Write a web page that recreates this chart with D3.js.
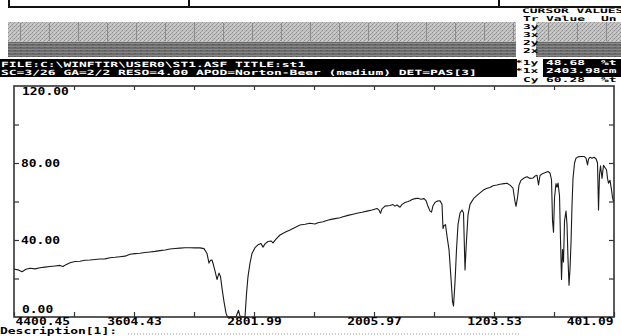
<!DOCTYPE html>
<html><head><meta charset="utf-8">
<script src="https://cdn.jsdelivr.net/npm/d3@7"></script>
<style>
html,body{margin:0;padding:0;background:#fff;overflow:hidden;}
svg{display:block;}
text{font-family:"DejaVu Sans Mono","Liberation Mono",monospace;font-weight:bold;}
</style></head><body>
<svg id="chart" width="621" height="336"></svg>
<script>
// Spectrum: wavenumber (cm-1) and transmittance (%T)
const wavenumbers = [
  4400.5,4373.8,4347.1,4320.5,4293.8,4260.5,4227.2,4193.8,4160.5,4127.2,4093.8,4073.9,4053.9,4027.2,
  3993.9,3960.5,3927.2,3893.9,3860.6,3827.2,3793.9,3760.6,3727.2,3693.9,3660.6,3627.2,3593.9,3560.6,
  3527.3,3493.9,3460.6,3427.3,3393.9,3360.6,3327.3,3293.9,3260.6,3227.3,3193.9,3160.6,3134.0,3114.0,
  3100.7,3090.6,3080.7,3070.7,3060.7,3047.3,3034.0,3024.0,3014.0,3000.7,2987.4,2977.4,2920.7,2904.0,
  2894.1,2874.1,2860.7,2850.7,2840.7,2827.4,2814.1,2794.1,2774.1,2754.1,2740.7,2727.4,2707.4,2687.4,
  2674.1,2654.1,2627.4,2594.1,2560.7,2527.4,2494.1,2460.7,2427.4,2394.1,2374.1,2340.8,2294.1,2260.8,
  2227.5,2207.5,2174.1,2140.8,2107.5,2080.8,2047.5,2014.1,1980.8,1967.5,1957.5,1947.5,1927.5,1894.1,
  1874.1,1860.8,1847.5,1827.5,1814.1,1794.1,1774.1,1760.8,1747.5,1727.5,1707.5,1687.5,1667.5,1654.2,
  1640.8,1627.5,1617.5,1607.5,1594.2,1580.8,1560.8,1547.5,1540.9,1534.2,1524.2,1514.2,1500.9,1487.5,
  1477.5,1470.9,1460.9,1450.9,1440.9,1427.5,1414.2,1404.2,1394.2,1384.2,1374.2,1360.9,1347.5,1334.2,
  1314.2,1294.2,1274.2,1247.6,1227.6,1207.6,1180.9,1160.9,1134.3,1114.3,1094.3,1074.3,1060.9,1054.3,
  1044.3,1034.3,1020.9,1000.9,980.9,960.9,940.9,927.6,914.3,904.3,894.3,874.3,854.3,840.9,
  827.6,817.6,810.9,804.3,797.6,787.6,780.9,774.3,764.3,757.6,750.9,744.3,737.6,730.9,
  721.0,714.3,707.6,701.0,694.3,687.6,681.0,674.3,664.3,654.3,641.0,621.0,601.0,587.6,
  577.6,571.0,561.0,547.6,534.3,521.0,511.0,504.3,497.6,491.0,481.0,471.0,461.0,451.0,
  444.3,437.6,427.6,417.6,411.0,404.3
];
const transmittance = [
  24.9,24.5,23.5,24.8,25.3,25.0,25.6,25.9,26.2,26.5,26.8,26.2,27.2,28.2,
  28.8,29.0,29.5,29.6,29.9,30.1,30.2,30.8,31.0,31.3,31.6,32.6,32.9,33.1,
  33.5,33.8,34.1,34.5,34.8,35.3,35.6,35.8,36.0,36.0,35.9,35.9,35.5,33.0,
  28.0,29.5,29.6,27.0,24.0,19.5,22.8,21.0,15.0,8.0,2.0,0.0,0.0,3.5,
  0.5,0.0,0.0,12.0,21.0,28.0,33.0,36.0,37.5,38.2,36.3,38.0,39.2,39.5,
  38.5,40.5,42.6,44.0,45.2,46.5,47.8,48.2,48.7,48.3,49.0,49.5,50.6,51.1,
  51.6,52.1,52.8,53.4,54.0,54.4,55.0,55.6,56.4,55.5,53.9,56.2,57.6,57.9,
  58.4,57.6,58.2,57.0,58.5,59.5,60.0,60.4,61.0,61.5,61.7,61.2,61.5,60.5,
  57.5,55.0,54.5,57.8,59.5,60.2,60.4,58.5,46.0,47.5,48.0,42.0,35.0,20.0,
  8.0,5.7,18.0,35.0,48.0,54.0,55.6,54.0,24.4,40.0,53.0,58.5,60.2,61.8,
  63.2,64.5,65.8,66.9,67.3,68.2,68.6,69.0,69.3,69.5,68.5,67.0,60.0,57.5,
  62.0,68.5,71.0,72.2,72.9,72.0,72.2,73.2,73.6,68.6,73.5,74.6,75.2,75.6,
  74.8,71.2,50.0,44.0,62.0,69.3,67.5,69.6,63.0,40.0,19.5,35.0,28.6,50.0,
  55.0,48.0,30.0,16.5,25.0,38.4,58.0,72.0,80.0,82.5,83.2,83.4,83.4,82.5,
  79.0,82.0,83.0,82.5,83.0,82.2,80.0,55.6,74.0,78.5,72.0,78.8,77.6,76.5,
  72.0,69.5,71.0,66.0,62.0,60.0
];

const xDomain = [4400.45, 401.09];
const xTickLabels = ["4400.45","3604.43","2801.99","2005.97","1203.53","401.09"];
const yTickValues = [0,20,40,60,80,100,120];
const yLabelValues = [0,40,80,120];
const yLabelText = ["0.00","40.00","80.00","120.00"];

const headerLines = [
  "FILE:C:\\WINFTIR\\USER0\\ST1.ASF TITLE:st1",
  "SC=3/26 GA=2/2 RESO=4.00 APOD=Norton-Beer (medium) DET=PAS[3]"
];
// cursor table rows: [label, value, unit]
const cursorRows = [
  ["3y","",""],["3x","",""],["2y","",""],["2x","",""],
  ["*1y","48.68","%t"],["*1x","2403.98","cm"],["Cy","60.28","%t"]
];

const CW = 7.8; // character cell width of the screen font
const svg = d3.select("#chart");
const defs = svg.append("defs");

function monoText(g, str, x, y, fill, size) {
  return g.append("text").attr("x", x).attr("y", y).attr("fill", fill)
    .attr("font-size", size || 10).text(str)
    .attr("textLength", str.length * CW).attr("lengthAdjust", "spacingAndGlyphs");
}

// ---------- header strip ----------
const head = svg.append("g");
head.append("path").attr("d", "M9,0V7H621M189,0V7M499,0V7")
  .attr("fill", "none").attr("stroke", "#111").attr("stroke-width", 2);

// dithered grey status bar
const pat = defs.append("pattern").attr("id", "dither").attr("patternUnits", "userSpaceOnUse")
  .attr("width", 4).attr("height", 4);
pat.append("rect").attr("width", 4).attr("height", 4).attr("fill", "#c2c2c2");
[[0,0,"#8e8e8e"],[2,2,"#8e8e8e"],[1,3,"#a4a4a4"],[3,1,"#a4a4a4"],[2,0,"#d6d6d6"]].forEach(p =>
  pat.append("rect").attr("x", p[0]).attr("y", p[1]).attr("width", 1).attr("height", 1).attr("fill", p[2]));

const pat2 = defs.append("pattern").attr("id", "dither2").attr("patternUnits", "userSpaceOnUse")
  .attr("width", 6).attr("height", 3);
pat2.append("rect").attr("width", 6).attr("height", 3).attr("fill", "#6c6c6c");
pat2.append("rect").attr("y", 1).attr("width", 6).attr("height", 1).attr("fill", "#878787");
pat2.append("rect").attr("x", 2).attr("y", 2).attr("width", 2).attr("height", 1).attr("fill", "#5a5a5a");

function statusBlock(x0, x1) {
  head.append("rect").attr("x", x0).attr("y", 22).attr("width", x1 - x0).attr("height", 20).attr("fill", "url(#dither)");
  head.append("rect").attr("x", x0).attr("y", 42).attr("width", x1 - x0).attr("height", 15).attr("fill", "url(#dither2)");
  for (let x = x0 + 12; x < x1; x += 29) {
    head.append("rect").attr("x", x).attr("y", 23).attr("width", 1).attr("height", 18).attr("fill", "#8a8a8a");
  }
}
statusBlock(8, 516);
statusBlock(536, 621);

head.append("rect").attr("x", 0).attr("y", 59).attr("width", 517).attr("height", 18).attr("fill", "#000");
head.append("rect").attr("x", 543).attr("y", 59).attr("width", 78).attr("height", 18).attr("fill", "#000");
monoText(head, headerLines[0], 1, 66.8, "#fff", 7.2);
monoText(head, headerLines[1], 1, 75.2, "#fff", 7.2);

// cursor values table
const FS = 6.8;
defs.append("clipPath").attr("id", "capclip").append("rect").attr("x", 500).attr("y", 8.5).attr("width", 121).attr("height", 20);
monoText(head, "CURSOR VALUES", 522, 13, "#000", FS).attr("clip-path", "url(#capclip)");
monoText(head, "Tr", 523, 21, "#000", FS);
monoText(head, "Value", 546, 21, "#000", FS);
monoText(head, "Un", 601, 21, "#000", FS);
const rowY = [29, 37, 45, 53, 64.5, 72.5, 81.5];
cursorRows.forEach((r, i) => {
  const lx = r[0].length === 3 ? 515 : 523;
  monoText(head, r[0], lx, rowY[i], "#000", FS);
  const col = (i === 4 || i === 5) ? "#fff" : "#000";
  if (r[1]) monoText(head, r[1], 546, rowY[i], col, FS);
  if (r[2]) monoText(head, r[2], 601, rowY[i], col, FS);
});

// ---------- plot ----------
const L = 14, R = 614, T = 86, B = 317;
const x = d3.scaleLinear().domain(xDomain).range([L, R]);
const y = d3.scaleLinear().domain([0, 120]).range([B, T]);

const plot = svg.append("g");
plot.append("rect").attr("x", L).attr("y", T).attr("width", R - L).attr("height", B - T)
  .attr("fill", "none").attr("stroke", "#333").attr("stroke-width", 1.6);

const step = (xDomain[0] - xDomain[1]) / 10;
const xTicks = d3.range(11).map(i => xDomain[0] - i * step);

const bottomAxis = d3.axisBottom(x).tickValues(xTicks).tickSize(-5).tickPadding(2)
  .tickFormat((d, i) => i % 2 === 0 ? xTickLabels[i / 2] : "");
const gB = plot.append("g").attr("transform", `translate(0,${B})`).call(bottomAxis);
gB.select(".domain").remove();
gB.selectAll("line").attr("stroke", "#333").attr("stroke-width", 1.2);
gB.selectAll("text").attr("font-size", 10).attr("fill", "#000").attr("y", 8)
  .attr("dy", 0)
  .each(function(d, i) {
    const s = d3.select(this);
    const str = s.text();
    if (!str) return;
    s.attr("textLength", str.length * CW).attr("lengthAdjust", "spacingAndGlyphs");
    if (i === 0) s.attr("text-anchor", "start").attr("x", 1);
    else if (i === 10) s.attr("text-anchor", "end").attr("x", -1);
  });

const topAxis = d3.axisTop(x).tickValues(xTicks.slice(1, 10)).tickSize(-4).tickFormat("");
const gT = plot.append("g").attr("transform", `translate(0,${T})`).call(topAxis);
gT.select(".domain").remove();
gT.selectAll("line").attr("stroke", "#333").attr("stroke-width", 1.2);

const leftAxis = d3.axisLeft(y).tickValues(yTickValues.slice(1, 6)).tickSize(-5).tickFormat("");
const gL = plot.append("g").attr("transform", `translate(${L},0)`).call(leftAxis);
gL.select(".domain").remove();
gL.selectAll("line").attr("stroke", "#333").attr("stroke-width", 1.2);

const rightAxis = d3.axisRight(y).tickValues(yTickValues.slice(1, 6)).tickSize(-5).tickFormat("");
const gR = plot.append("g").attr("transform", `translate(${R},0)`).call(rightAxis);
gR.select(".domain").remove();
gR.selectAll("line").attr("stroke", "#333").attr("stroke-width", 1.2);

// y labels inside the frame
yLabelValues.forEach((v, i) => {
  let yy = y(v) + 3.5;
  if (v === 120) yy = y(v) + 9;
  if (v === 0) yy = y(v) - 4;
  monoText(plot, yLabelText[i], v === 0 || v === 120 ? 22 : 21, yy, "#000");
});

// spectrum trace
const data = wavenumbers.map((w, i) => [w, transmittance[i]]);
const line = d3.line().x(d => x(d[0])).y(d => y(d[1]));
plot.append("path").datum(data).attr("d", line)
  .attr("fill", "none").attr("stroke", "#1a1a1a").attr("stroke-width", 1.1)
  .attr("stroke-linejoin", "round");

// ---------- description line ----------
monoText(svg, "Description[1]:", 0, 334, "#000", 8.6);
svg.append("line").attr("x1", 128).attr("x2", 520).attr("y1", 334).attr("y2", 334)
  .attr("stroke", "#999").attr("stroke-width", 1).attr("stroke-dasharray", "1,2");
</script>
</body></html>
